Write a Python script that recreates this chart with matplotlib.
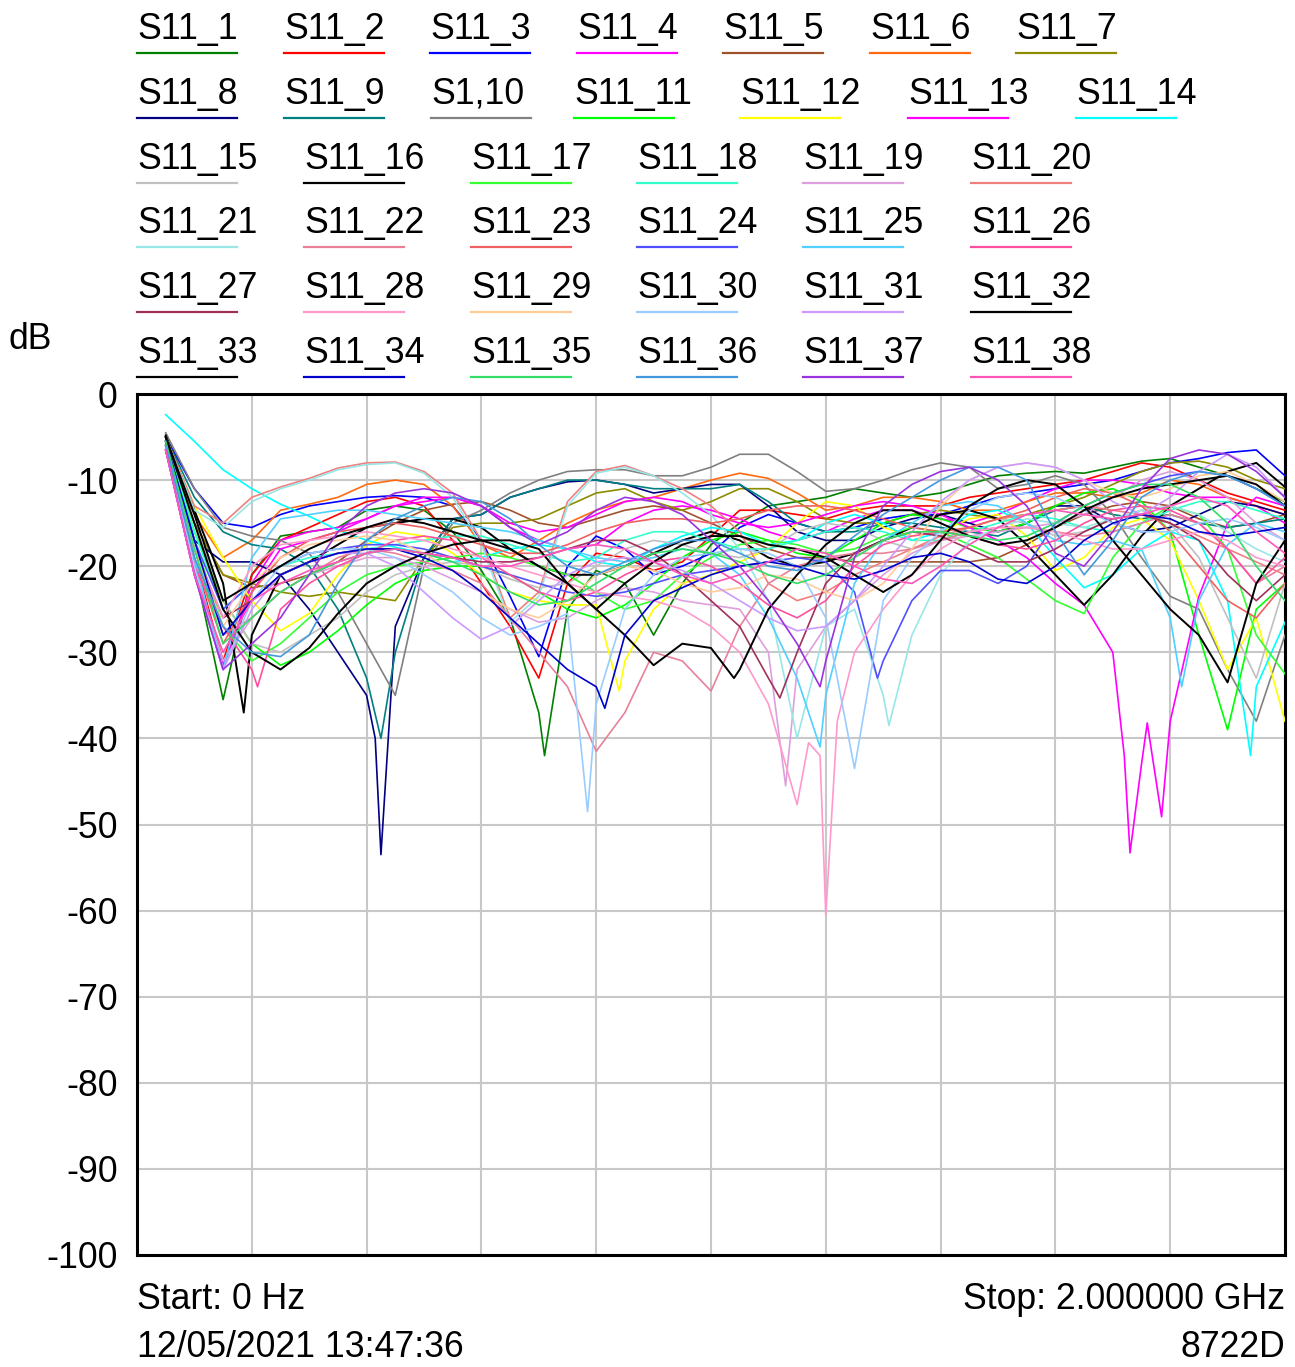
import numpy as np
import matplotlib
matplotlib.use("Agg")
import matplotlib.pyplot as plt
from matplotlib.lines import Line2D

plt.rcParams['font.family'] = ['Liberation Sans', 'DejaVu Sans']
FS = 25.7

# frequency grid of the sweep (GHz)
freq = [0.05, 0.10, 0.15, 0.20, 0.25, 0.30, 0.35, 0.40, 0.45, 0.50,
        0.55, 0.60, 0.65, 0.70, 0.75, 0.80, 0.85, 0.90, 0.95, 1.00,
        1.05, 1.10, 1.15, 1.20, 1.25, 1.30, 1.35, 1.40, 1.45, 1.50,
        1.55, 1.60, 1.65, 1.70, 1.75, 1.80, 1.85, 1.90, 1.95, 2.00]

names = ['S11_1', 'S11_2', 'S11_3', 'S11_4', 'S11_5', 'S11_6', 'S11_7',
         'S11_8', 'S11_9', 'S1,10', 'S11_11', 'S11_12', 'S11_13', 'S11_14',
         'S11_15', 'S11_16', 'S11_17', 'S11_18', 'S11_19', 'S11_20',
         'S11_21', 'S11_22', 'S11_23', 'S11_24', 'S11_25', 'S11_26',
         'S11_27', 'S11_28', 'S11_29', 'S11_30', 'S11_31', 'S11_32',
         'S11_33', 'S11_34', 'S11_35', 'S11_36', 'S11_37', 'S11_38']

colors = ['#008000', '#FF0000', '#0000FF', '#FF00FF', '#A0522D', '#FF6A10', '#8C8C00',
          '#000080', '#008080', '#808080', '#00FF00', '#FFFF00', '#FF00FF', '#00FFFF',
          '#C0C0C0', '#000000', '#33FF33', '#33FFCC', '#DDA0DD', '#F08080',
          '#99E6E6', '#E8809A', '#F06060', '#5050FF', '#50D0FF', '#FF50A0',
          '#A0305A', '#FF99CC', '#FFCC99', '#99CCFF', '#CC99FF', '#000000',
          '#000000', '#0000CC', '#33DD66', '#4499DD', '#9933DD', '#FF55BB']

# S11 in dB on the common grid
s11_01 = [-5.5, -20, -35.5, -21, -16.5, -16, -15.5, -13.5, -13, -13.5,
          -16, -20.5, -26, -37, -25, -20.5, -22, -28, -22, -17.5,
          -15, -13, -12.5, -12, -11, -11.5, -12, -11.5, -10.5, -9.5,
          -9.2, -9, -9.2, -8.5, -7.8, -7.5, -8.5, -9.5, -11, -12.5]
s11_02 = [-6, -19, -31, -21, -17, -15.5, -14, -12.5, -12, -13,
          -17, -22, -27, -33, -22, -18.5, -19, -20.5, -19.5, -16.5,
          -13.5, -13.5, -14, -14.5, -13.5, -13, -13, -13, -12, -11.5,
          -11, -10.5, -10, -9, -8, -8.5, -10, -11.5, -12.5, -13.5]
s11_03 = [-5, -11, -15, -15.5, -14, -13, -12.5, -12, -11.8, -12,
          -13, -17, -23.5, -30.5, -20, -16.5, -18, -21, -20, -18.5,
          -15.5, -14, -15, -16, -15.5, -14.5, -14, -14, -13, -12,
          -11.5, -11, -10.5, -10, -9, -8, -7.5, -6.8, -6.5, -9.5]
s11_04 = [-6.5, -21, -32, -22, -17, -16, -15.5, -14.5, -13, -12.5,
          -12, -13, -15.5, -17, -18, -17.5, -15, -13.5, -13, -13.5,
          -14.5, -16, -17, -16, -14.5, -13.5, -13.5, -14.5, -15, -14,
          -12.5, -11, -10, -10, -10.5, -11.5, -12, -12, -13, -15]
s11_05 = [-6, -15, -21, -22.5, -22, -21, -19.5, -17, -15, -13.5,
          -12.8, -12.5, -13.5, -15, -15.5, -14.5, -13.5, -13, -13.5, -15,
          -16.5, -18, -19, -19, -19.5, -19.5, -19.5, -19.5, -19.5, -19,
          -17.5, -15.5, -14, -13, -12.5, -13, -14.5, -15.5, -15, -14]
s11_06 = [-6.5, -14, -19, -17, -13.5, -12.8, -12, -10.5, -10, -10.5,
          -13, -17.5, -19, -17, -15, -13.5, -12.5, -12, -11, -10,
          -9.2, -9.8, -11.5, -13.5, -13, -12, -12, -12.5, -13.5, -13.5,
          -12.5, -11.5, -11.5, -12, -11.5, -10, -10.5, -12, -13, -14]
s11_07 = [-6, -15, -21, -22, -23, -23.5, -23, -23.5, -24, -19,
          -15.5, -15, -15, -14.5, -13, -11.5, -11, -12.5, -13.5, -12.5,
          -11, -11, -12.5, -14.5, -15, -15, -14, -13.5, -14, -14.5,
          -14, -13, -12, -10.5, -9, -8, -7.8, -8.5, -10, -11]
s11_08 = [-5, -17, -19.5, -19.5, -21, -25, -30, -35, -27, -19,
          -14.5, -14, -12, -11, -10.2, -10, -10.5, -11.5, -11, -10.5,
          -10.5, -13, -16, -17, -17, -15.5, -14.5, -14, -15, -16,
          -15, -13, -13, -15, -16, -15.5, -14, -12.5, -13, -14]
s11_09 = [-5, -12, -16, -17.5, -18, -20, -25, -33, -30, -19,
          -14.5, -14, -12, -11, -10, -10, -10.5, -11, -11, -11,
          -10.5, -12.5, -15, -16, -16, -15, -15, -15.5, -16, -16.5,
          -15, -13.5, -13, -14, -14.5, -14, -15, -15.5, -15, -14.5]
s11_10 = [-4.5, -11, -15.5, -16.5, -17, -18.5, -23, -29, -35, -20,
          -15, -13.5, -11.5, -10, -9, -8.8, -8.8, -9.5, -9.5, -8.5,
          -7, -7, -9, -11.3, -11, -10, -8.8, -8, -8.5, -11,
          -10.5, -9.5, -10.5, -14, -19, -23.5, -25, -32, -38, -28]
s11_11 = [-5.5, -16, -24, -29, -31.5, -30, -27.5, -24.5, -22, -20.5,
          -20, -20, -21, -23, -25, -26, -24.5, -22, -19, -17,
          -16, -17, -18.5, -19, -17, -15, -14, -14.5, -15.5, -16,
          -15, -13, -11.5, -11, -12.5, -16, -28, -39, -25, -22]
s11_12 = [-5, -13, -19, -24, -27.5, -25.5, -21, -17.5, -16, -16.5,
          -18.5, -21, -23, -24, -24.5, -24.5, -31, -25, -22, -21,
          -19.5, -18, -15, -12.5, -13, -15.5, -16.5, -16, -14.5, -14,
          -16.5, -20.5, -19, -15.5, -14.5, -17, -24, -32, -26, -38]
s11_13 = [-6.5, -20, -31.5, -23, -18, -17, -16, -14.5, -13, -12,
          -12, -13, -15, -16, -15.5, -14, -12.5, -12, -12.5, -14,
          -15, -15.5, -15, -14, -13, -12.5, -13, -14, -15.5, -17,
          -19, -22, -24.5, -30, -43, -38, -23.5, -15, -12, -13]
s11_14 = [-2.4, -5.5, -8.8, -11, -12.8, -14.2, -15.8, -17, -17.8, -18.5,
          -19.5, -19, -18, -17.5, -18, -19.5, -20, -18, -16.5, -15.5,
          -16, -17.5, -17, -15, -14, -15, -17, -16, -14, -13.5,
          -15, -19, -22.5, -21, -18, -16, -17, -24, -34, -26.5]
s11_15 = [-5, -15, -24, -29, -30, -28, -26, -23, -21, -20,
          -19.5, -20, -21.5, -22.5, -22, -20, -18, -17, -17.5, -18.5,
          -19, -18, -16, -15, -15.5, -17, -18, -17, -15.5, -14.5,
          -15, -16.5, -16, -14.5, -13.5, -15, -19, -26, -33, -22]
s11_16 = [-4.8, -13.5, -22, -28, -21, -19.5, -17.5, -15.5, -15, -14.5,
          -14.5, -15.5, -18, -20, -21, -21, -20, -18.5, -17, -16,
          -17, -19, -20, -19.5, -18.5, -17, -15.5, -14, -13.5, -14.5,
          -17.5, -21, -24.5, -21, -16.5, -13, -11, -9, -8, -10.8]
s11_17 = [-5.5, -17, -27, -31, -29, -26, -23, -21, -20, -19.5,
          -19, -18.5, -19, -20, -21, -23, -25, -24, -21, -19,
          -17.5, -17, -17.5, -18.5, -18, -16.5, -15.5, -16, -17.5, -19,
          -21.5, -24, -25.5, -19, -15, -13, -14, -18, -28, -32.5]
s11_18 = [-5, -16, -25, -22, -20, -19, -18.5, -18, -17.5, -17,
          -16.5, -16.5, -17.5, -18.5, -19.5, -19, -17, -16, -16, -17,
          -18, -18, -17, -16, -15.5, -16, -17, -17, -16, -15,
          -14, -14.5, -15.5, -16, -15, -13.5, -12.5, -12.5, -13.5, -14.5]
s11_19 = [-6, -20, -31, -26, -23, -21, -20, -19, -19, -20,
          -21.5, -23, -25, -26.5, -26, -24, -22.5, -23, -24, -24.5,
          -25, -30, -32, -27, -24, -21, -18.5, -17, -16.5, -16,
          -15.5, -15, -14, -12, -10, -9, -10, -12, -15, -17]
s11_20 = [-5, -13, -15, -12, -10.8, -9.8, -8.6, -8, -7.9, -9,
          -11.5, -17, -26, -23, -12.5, -9, -8.3, -9.5, -11, -13,
          -16, -22, -24, -23, -21, -19.5, -18, -16.5, -15.5, -14.5,
          -14, -13.5, -13, -13.5, -14, -15, -16.5, -18, -19.5, -21]
s11_21 = [-5, -13.5, -15.5, -12.5, -11, -10, -8.8, -8.2, -8, -9.2,
          -12, -17.5, -26.5, -23.5, -13, -9.2, -8.5, -9.5, -11.5, -14,
          -18, -24, -40, -27, -25, -35, -28, -21, -17, -15.5,
          -14.5, -15, -15.5, -14.5, -13.5, -13, -14, -16, -18, -19.5]
s11_22 = [-5.5, -18, -28, -26, -23, -21, -19, -18, -18.5, -19.5,
          -20.5, -22, -26, -30, -34, -41.5, -37, -30, -31, -34.5,
          -27, -22, -20, -19, -18.5, -18.5, -18, -17, -16, -15.5,
          -15.5, -16, -16.5, -16, -15, -14, -15, -18, -22, -20]
s11_23 = [-6, -19, -29, -23, -19, -17, -16, -15.5, -15, -15.5,
          -16.5, -17.5, -18.5, -18.5, -17.5, -16, -15, -14.5, -14.5, -15,
          -14.5, -13.5, -13, -13, -13.5, -14.5, -15.5, -16, -15.5, -14.5,
          -13.5, -12, -11, -11.5, -13, -16, -20, -24, -26, -22]
s11_24 = [-5.5, -17, -25, -22, -20, -18.5, -18, -17.5, -17.5, -18,
          -19, -20, -21, -22, -23, -23.5, -23, -22, -21, -20.5,
          -20, -19.5, -19, -19.5, -23, -31, -24, -20.5, -20.5, -22,
          -20, -15, -13, -11.5, -10.5, -9.5, -9, -9.5, -11, -13]
s11_25 = [-5.5, -19, -32, -19, -14.5, -14, -13.5, -13.5, -14, -14.5,
          -15, -15.5, -16, -17, -18, -19, -19.5, -19, -18, -18.5,
          -21, -26, -33, -35, -22, -17, -15, -13, -12.5, -13,
          -15, -17, -17.5, -17, -18, -26, -24, -17.5, -15, -16]
s11_26 = [-6.5, -20, -27, -32, -25, -22, -20, -18.5, -17, -16.5,
          -17, -19, -21, -23, -24, -23, -21, -19.5, -19, -20,
          -22, -24.5, -26, -24, -20, -17.5, -16.5, -16, -16.5, -17.5,
          -18, -17, -15, -13.5, -13, -13.5, -15, -18, -22, -19]
s11_27 = [-6, -18, -26, -24, -21, -19.5, -18.5, -18, -18, -18.5,
          -19, -19.5, -19.5, -19, -18, -17, -17, -18.5, -21, -24,
          -27, -33, -30, -22, -18.5, -17, -16, -16.5, -18, -19.5,
          -19.5, -18, -16, -14.5, -14, -15, -17, -21, -24, -21]
s11_28 = [-6, -18, -26, -20, -17.5, -17, -16.5, -16, -16.5, -17,
          -18, -19, -20, -21, -22, -23, -23.5, -24, -25, -27,
          -30, -36, -47.7, -60.5, -30, -25, -21, -18, -16, -15.5,
          -15.5, -16, -17, -18, -18, -17, -16, -17, -19, -20]
s11_29 = [-6, -18, -27, -22, -19, -17.5, -17, -16.5, -17, -18.5,
          -20.5, -23, -25, -26, -24, -21, -20, -20.5, -22, -23,
          -22.5, -21, -21.5, -23, -24, -22, -18, -13, -10, -8.5,
          -8, -8.5, -10, -11.5, -12, -11, -9.5, -9, -10.5, -12.5]
s11_30 = [-6, -20, -32, -24, -20, -18.5, -18, -18, -19, -21,
          -23, -26, -28, -27, -25.5, -36, -25, -21, -19, -18.5,
          -18, -18.5, -20, -26, -43.5, -24, -19, -16, -13.5, -12,
          -11.5, -12, -13.5, -15, -16, -16, -15, -14.5, -15.5, -17]
s11_31 = [-6.5, -21, -32, -25, -21, -19.5, -18.5, -18.5, -20, -23,
          -26, -28.5, -27, -24, -21, -19.5, -19, -19.5, -20.5, -22,
          -24, -26, -27.5, -27, -24, -20, -16, -12.5, -10, -8.5,
          -8, -8.5, -10, -12.5, -14, -12, -9, -7, -8.5, -12]
s11_32 = [-5, -15, -25, -30, -32, -29.5, -25.5, -22, -20, -18.5,
          -17.5, -17, -18, -20, -22, -25, -28, -31.5, -29, -29.5,
          -32, -25, -21, -17.5, -15, -13.5, -13.5, -15, -16.5, -17.5,
          -17, -15.5, -13.5, -12, -11, -10.5, -10, -9.5, -10.5, -13]
s11_33 = [-5, -14, -24, -22, -20, -18, -16.5, -15.5, -14.5, -15,
          -16, -17, -17, -18, -22, -25, -22, -19.5, -17.5, -16.5,
          -16.5, -17.5, -18, -19, -21, -23, -21, -17, -13, -11,
          -10, -10.5, -13, -17, -21, -25, -28, -33.5, -22, -17]
s11_34 = [-5.5, -17, -28, -24, -21, -19.5, -18.5, -18, -18, -19,
          -20.5, -23, -26, -29, -32, -34, -28, -24, -22.5, -21,
          -20, -19.5, -20, -21, -21.5, -20.5, -19, -18.5, -19.5, -21.5,
          -22, -20, -17, -15, -14, -14.5, -16, -16.5, -16, -15.5]
s11_35 = [-5.5, -18, -29, -26, -23, -21, -19.5, -18.5, -18, -18.5,
          -19.5, -21, -23, -24.5, -24, -22, -20, -18.5, -18, -18.5,
          -19.5, -21, -22, -21, -19, -17, -16, -16, -16.5, -17,
          -16.5, -15, -13, -11.5, -10.5, -10.5, -12, -15, -20, -24]
s11_36 = [-6, -19, -27, -30, -30.5, -28, -22, -17, -14.5, -13,
          -12, -12.5, -14.5, -17.5, -20, -21, -19.5, -18, -17, -17,
          -18.5, -20, -20.5, -19, -16.5, -14, -12, -10, -8.5, -8.5,
          -10, -16, -21, -17, -12, -10, -9, -9.5, -11, -13]
s11_37 = [-6.5, -21, -32, -29, -26, -21, -16, -13, -11.5, -11,
          -11.5, -13, -15.5, -17.5, -16, -13.5, -12, -12.5, -14, -17,
          -20, -24, -29, -31, -19, -13, -10.5, -9, -8.5, -10,
          -13, -18.5, -20, -16, -11, -7.5, -6.5, -7, -9, -12]
s11_38 = [-6.5, -21, -30, -24, -22, -20.5, -19.5, -18.5, -18, -18.5,
          -19, -20, -20, -19, -18, -17.5, -18, -19.5, -21, -22,
          -21, -19.5, -18, -18.5, -20, -21.5, -22, -20, -17.5, -15.5,
          -14, -13.5, -14, -14.5, -14, -13, -12, -13, -16, -18.5]

traces = [s11_01, s11_02, s11_03, s11_04, s11_05, s11_06, s11_07, s11_08,
          s11_09, s11_10, s11_11, s11_12, s11_13, s11_14, s11_15, s11_16,
          s11_17, s11_18, s11_19, s11_20, s11_21, s11_22, s11_23, s11_24,
          s11_25, s11_26, s11_27, s11_28, s11_29, s11_30, s11_31, s11_32,
          s11_33, s11_34, s11_35, s11_36, s11_37, s11_38]

# sharp resonance notches between grid points: trace number -> (GHz, dB)
notches = {
    1: [(0.71, -42.0)],
    8: [(0.415, -40.0), (0.425, -53.5)],
    9: [(0.425, -40.0)],
    12: [(0.84, -34.5)],
    13: [(1.72, -42.0), (1.73, -53.3), (1.76, -38.2), (1.785, -49.1)],
    14: [(1.94, -42.0)],
    16: [(0.186, -37.0)],
    19: [(1.13, -45.5)],
    21: [(1.31, -38.5)],
    24: [(1.29, -33.0)],
    25: [(1.19, -41.0), (1.82, -34.0)],
    26: [(0.21, -34.0)],
    27: [(1.12, -35.3)],
    28: [(1.17, -40.5), (1.19, -42.0), (1.22, -38.0)],
    30: [(0.785, -48.5)],
    32: [(1.04, -33.0)],
    34: [(0.815, -36.5)],
    37: [(1.19, -34.0)],
}

W, H = 1295, 1367
fig = plt.figure(figsize=(W / 100, H / 100), dpi=100)
ax = fig.add_axes([137 / W, 1 - 1255 / H, 1148 / W, 861 / H])

for k, vals in enumerate(traces):
    f = list(freq)
    v = list(vals)
    for nf, nv in notches.get(k + 1, []):
        i = int(np.searchsorted(f, nf))
        f.insert(i, nf)
        v.insert(i, nv)
    lw = 1.4 if colors[k] == '#000000' else 1.2
    ax.plot(f, v, color=colors[k], linewidth=lw, zorder=3)

ax.set_xlim(0, 2.0)
ax.set_ylim(-100, 0)
ax.set_xticks(np.arange(0, 2.01, 0.2))
ax.set_yticks(np.arange(-100, 1, 10))
ax.set_xticklabels([])
ax.set_yticklabels([str(t) for t in range(-100, 1, 10)], fontsize=FS)
ax.tick_params(length=0, pad=14)
ax.grid(True, color='#C8C8C8', linewidth=1.5, zorder=1)
for sp in ax.spines.values():
    sp.set_linewidth(2.2)
    sp.set_color('black')

# legend grid: names laid out in rows
rows_x = [[137, 284, 430, 577, 723, 870, 1016],
          [137, 284, 431, 574, 740, 908, 1076],
          [137, 304, 471, 637, 803, 971],
          [137, 304, 471, 637, 803, 971],
          [137, 304, 471, 637, 803, 971],
          [137, 304, 471, 637, 803, 971]]
k = 0
for r, xs in enumerate(rows_x):
    y_line = 53 + r * 64.8
    for x in xs:
        fig.text(x / W, 1 - (y_line - 14) / H, names[k], fontsize=FS,
                 ha='left', va='baseline')
        fig.add_artist(Line2D([x / W, (x + 100) / W],
                              [1 - y_line / H, 1 - y_line / H],
                              color=colors[k], linewidth=1.6))
        k += 1

fig.text(8 / W, 1 - 349 / H, 'dB', fontsize=FS, ha='left', va='baseline')
fig.text(137 / W, 1 - 1309 / H, 'Start: 0 Hz', fontsize=FS, ha='left', va='baseline')
fig.text(1285 / W, 1 - 1309 / H, 'Stop: 2.000000 GHz', fontsize=FS, ha='right', va='baseline')
fig.text(137 / W, 1 - 1357 / H, '12/05/2021 13:47:36', fontsize=FS, ha='left', va='baseline')
fig.text(1285 / W, 1 - 1357 / H, '8722D', fontsize=FS, ha='right', va='baseline')

fig.savefig('out.png', dpi=100)
